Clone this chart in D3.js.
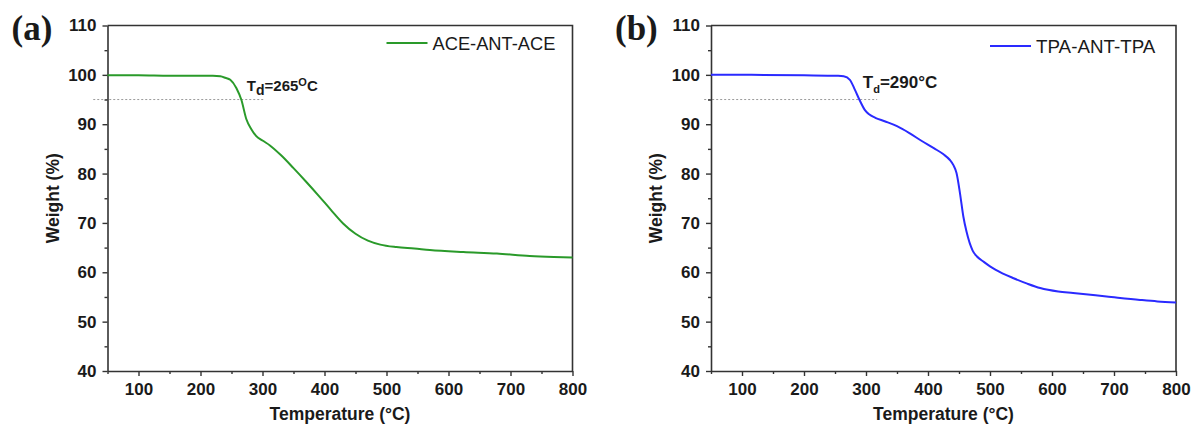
<!DOCTYPE html>
<html>
<head>
<meta charset="utf-8">
<script src="https://cdn.jsdelivr.net/npm/d3@7/dist/d3.min.js"></script>
<style>
  html, body { margin: 0; padding: 0; background: #fff; }
  svg { display: block; }
  text { fill: #1a1a1a; }
</style>
</head>
<body>
<svg id="chart" width="1194" height="427"></svg>
<script>
// TGA curves: temperature (°C) vs residual weight (%)
const tempA   = [50, 100, 150, 200, 220, 232, 240, 248, 258, 266, 274, 282, 290, 300, 312, 330, 350, 370, 390, 410, 430, 450, 470, 490, 516, 545, 570, 624, 678, 731, 770, 800];
const weightA = [99.9, 99.9, 99.8, 99.8, 99.8, 99.7, 99.4, 99.0, 97.3, 94.9, 91.0, 89.0, 87.6, 86.7, 85.7, 83.7, 81.1, 78.4, 75.6, 72.7, 69.9, 67.8, 66.4, 65.6, 65.1, 64.8, 64.5, 64.1, 63.8, 63.3, 63.1, 63.0];

const tempB   = [50, 100, 200, 255, 264, 274, 282, 290, 298, 305, 315, 330, 350, 370, 390, 410, 425, 435, 441, 446, 451.6, 457, 462, 472, 479, 490, 500, 520, 538, 560, 581, 610, 634, 688, 742, 770, 800];
const weightB = [100, 100, 99.9, 99.8, 99.7, 99.0, 97.0, 94.8, 92.9, 92.0, 91.3, 90.6, 89.6, 88.2, 86.6, 85.1, 83.9, 82.8, 81.7, 80.1, 76.0, 71.3, 68.3, 64.4, 63.2, 62.1, 61.2, 59.8, 58.8, 57.7, 56.8, 56.1, 55.8, 55.1, 54.4, 54.1, 53.9];

const xTicks = [100, 200, 300, 400, 500, 600, 700, 800];
const yTicks = [40, 50, 60, 70, 80, 90, 100, 110];
const xMinor = [50, 150, 250, 350, 450, 550, 650, 750];
const yMinor = [45, 55, 65, 75, 85, 95, 105];

const seriesNames = ["ACE-ANT-ACE", "TPA-ANT-TPA"];
const panelLetters = ["(a)", "(b)"];
const tdValues = [265, 290];
// 5 % weight-loss guide line: level and its temperature extent
const guideLevel = 95;
const guideFromA = [27, 304];
const guideFromB = [39, 318];

const SANS = "'Liberation Sans', Arial, sans-serif";
const SERIF = "'Liberation Serif', 'Times New Roman', serif";

const svg = d3.select("#chart");

const panels = [
  { temp: tempA, weight: weightA, name: seriesNames[0], letter: panelLetters[0], td: tdValues[0], guide: guideFromA,
    color: "#2a9a2a", x0: 107.5, x1: 572.5, supO: true },
  { temp: tempB, weight: weightB, name: seriesNames[1], letter: panelLetters[1], td: tdValues[1], guide: guideFromB,
    color: "#2a2aff", x0: 711, x1: 1176, supO: false }
];

const yTop = 25.5, yBot = 371;
const axisColor = "#333";

panels.forEach(p => {
  const x = d3.scaleLinear().domain([50, 800]).range([p.x0, p.x1]);
  const y = d3.scaleLinear().domain([40, 110]).range([yBot, yTop]);
  const g = svg.append("g").style("font-family", SANS);

  // guide line at 95 %
  g.append("line")
    .attr("x1", x(p.guide[0])).attr("x2", x(p.guide[1]))
    .attr("y1", y(guideLevel)).attr("y2", y(guideLevel))
    .attr("stroke", "#9a9a9a").attr("stroke-width", 1).attr("stroke-dasharray", "2,2");

  // frame (top & right)
  g.append("path")
    .attr("d", `M${x(50)},${y(110)}H${x(800)}V${y(40)}`)
    .attr("fill", "none").attr("stroke", axisColor).attr("stroke-width", 1.6);

  // minor ticks
  g.append("g").attr("transform", `translate(0,${yBot})`)
    .call(d3.axisBottom(x).tickValues(xMinor).tickSize(3).tickFormat(""))
    .call(a => a.select(".domain").remove())
    .call(a => a.selectAll("line").attr("stroke", axisColor).attr("stroke-width", 1.4));
  g.append("g").attr("transform", `translate(${p.x0},0)`)
    .call(d3.axisLeft(y).tickValues(yMinor).tickSize(3).tickFormat(""))
    .call(a => a.select(".domain").remove())
    .call(a => a.selectAll("line").attr("stroke", axisColor).attr("stroke-width", 1.4));

  // major axes
  const xa = g.append("g").attr("transform", `translate(0,${yBot})`)
    .call(d3.axisBottom(x).tickValues(xTicks).tickSize(5).tickSizeOuter(0).tickPadding(7));
  const ya = g.append("g").attr("transform", `translate(${p.x0},0)`)
    .call(d3.axisLeft(y).tickValues(yTicks).tickSize(5).tickSizeOuter(0).tickPadding(6));
  [xa, ya].forEach(a => {
    a.select(".domain").attr("stroke", axisColor).attr("stroke-width", 1.6);
    a.selectAll("line").attr("stroke", axisColor).attr("stroke-width", 1.4);
    a.selectAll("text").style("font-family", SANS)
      .style("font-size", "17px").style("font-weight", "bold").style("fill", "#1a1a1a");
  });

  // curve
  const line = d3.line().x((d, i) => x(p.temp[i])).y(d => y(d)).curve(d3.curveMonotoneX);
  g.append("path").datum(p.weight)
    .attr("d", line).attr("fill", "none")
    .attr("stroke", p.color).attr("stroke-width", 2);

  // axis titles
  g.append("text")
    .attr("x", (p.x0 + p.x1) / 2).attr("y", 420)
    .attr("text-anchor", "middle").style("font-size", "17.5px").style("font-weight", "bold")
    .text("Temperature (°C)");
  g.append("text")
    .attr("transform", `translate(${p.x0 - 49},${(yTop + yBot) / 2}) rotate(-90)`)
    .attr("text-anchor", "middle").style("font-size", "17.5px").style("font-weight", "bold")
    .text("Weight (%)");

  // panel letter
  g.append("text")
    .attr("x", p.x0 - 96).attr("y", 40)
    .style("font-family", SERIF)
    .style("font-size", "35px").style("font-weight", "bold")
    .text(p.letter);

  // legend
  const lx = x(800) - 186;
  const ly = p.supO ? 43 : 46;
  g.append("line").attr("x1", lx).attr("x2", lx + 41).attr("y1", ly).attr("y2", ly)
    .attr("stroke", p.color).attr("stroke-width", 2);
  g.append("text").attr("x", lx + 46).attr("y", ly).attr("dy", "0.36em")
    .style("font-size", p.supO ? "18.3px" : "18.8px")
    .text(p.name);

  // decomposition temperature label
  const tdText = g.append("text")
    .attr("x", x(p.td) + (p.supO ? 6 : 3)).attr("y", p.supO ? 91 : 88)
    .style("font-weight", "bold").style("font-size", p.supO ? "15px" : "17px");
  tdText.append("tspan").text("T");
  tdText.append("tspan").attr("dy", p.supO ? 4 : 5).style("font-size", p.supO ? "14px" : "11px").text("d");
  if (p.supO) {
    tdText.append("tspan").attr("dy", -4).text("=" + p.td);
    tdText.append("tspan").attr("dy", -5).style("font-size", "11px").text("O");
    tdText.append("tspan").attr("dy", 5).text("C");
  } else {
    tdText.append("tspan").attr("dy", -5).text("=" + p.td + "°C");
  }
});
</script>
</body>
</html>
